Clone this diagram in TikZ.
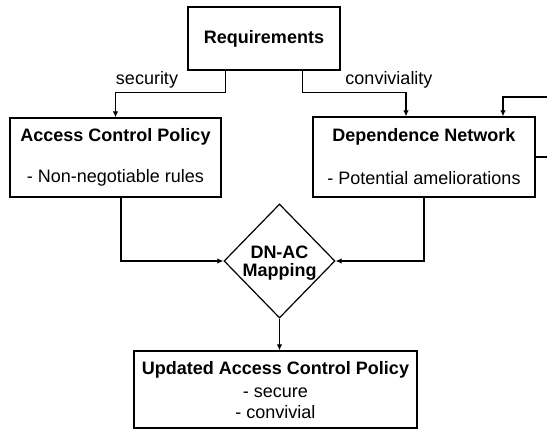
\documentclass[tikz,border=0pt]{standalone}
\usepackage{fontspec}
\setmainfont{Liberation Sans}
\usetikzlibrary{shapes.geometric,arrows.meta,calc}
\begin{document}
\begin{tikzpicture}[x=1pt,y=-1pt,
  every node/.style={font=\fontsize{18}{21}\selectfont},
  box/.style={draw,line width=1.2pt,rectangle,inner sep=0pt,align=center},
  lbl/.style={inner sep=0pt},
  link/.style={line width=1.2pt},
  arr/.style={link,-{Latex[length=6pt,width=5.5pt]}}]
\useasboundingbox (0,0) rectangle (547,430);
% boxes
\node[box,minimum width=152pt,minimum height=63pt] (req) at (264,38.5) {\textbf{Requirements}};
\node[box,minimum width=211pt,minimum height=79pt] (acp) at (115.5,157.5) {};
\node[lbl] at (115.5,137) {\textbf{Access Control Policy}};
\node[lbl] at (115.5,178) {- Non-negotiable rules};
\node[box,minimum width=222pt,minimum height=80pt] (dn) at (424,157) {};
\node[lbl] at (424,137) {\textbf{Dependence Network}};
\node[lbl] at (424,178) {- Potential ameliorations};
\node[draw,line width=1.2pt,diamond,inner sep=0pt,minimum width=111pt,minimum height=114pt] (map) at (279.5,261) {};
\node[lbl] at (279.5,252) {\textbf{DN-AC}};
\node[lbl] at (279.5,272) {\textbf{Mapping}};
\node[box,minimum width=283pt,minimum height=77pt] (upd) at (275.5,389.5) {};
\node[lbl] at (275.5,370) {\textbf{Updated Access Control Policy}};
\node[lbl] at (275.5,393) {- secure};
\node[lbl] at (275.5,412) {- convivial};
% labels
\node[lbl] (sec) at (147,80) {security};
\node[lbl] (conv) at (389,80) {conviviality};
% outside ends
\coordinate (ext-in) at (548,97);
\coordinate (ext-out) at (548,157);
% connectors
\draw[arr] ([xshift=38pt]req.south west) -- ++(0,22) -| (acp.north);
\draw[arr] ([xshift=-38pt]req.south east) -- ++(0,22) -| ([xshift=-18pt]dn.north);
\draw[arr] (ext-in) -| ([xshift=79pt]dn.north);
\draw[link] (dn.east) -- (ext-out);
\draw[arr] ([xshift=5.5pt]acp.south) |- (map.west);
\draw[arr] (dn.south) |- (map.east);
\draw[arr] (map.south) -- (map.south |- upd.north);
\end{tikzpicture}
\end{document}
